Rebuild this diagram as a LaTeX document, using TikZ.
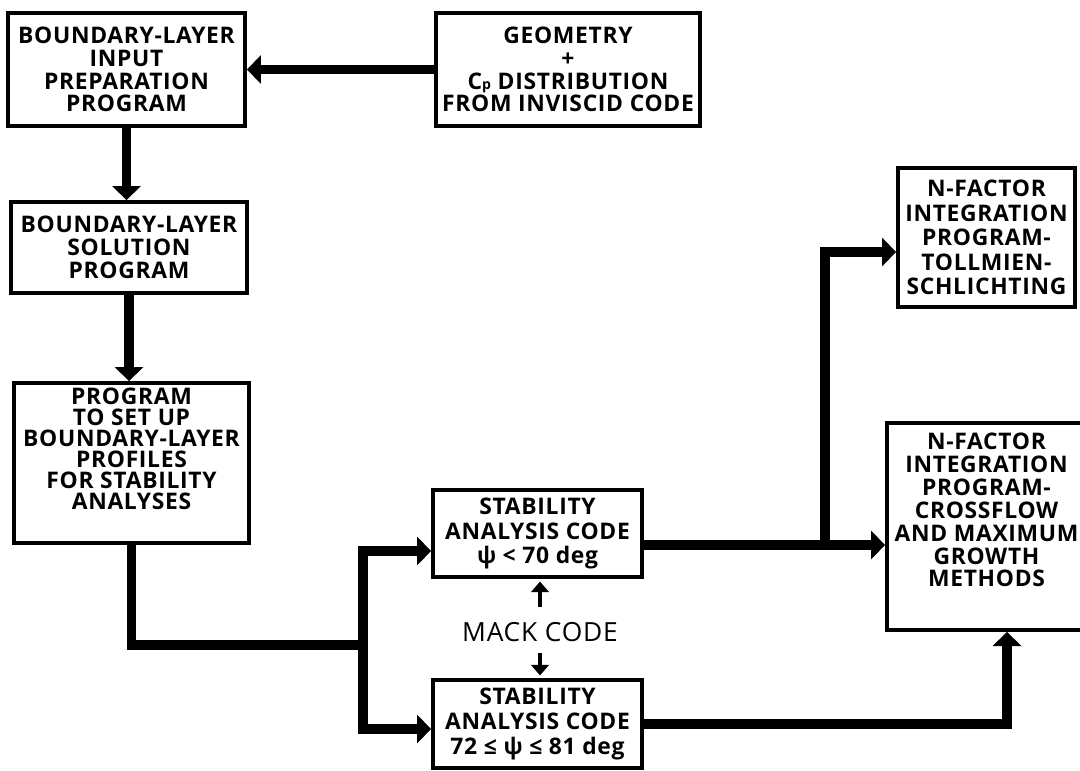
\documentclass[tikz,border=0pt]{standalone}
\usepackage{fontspec}
\usepackage{tikz}
\usetikzlibrary{arrows.meta,positioning}
\newfontfamily\diagfont{Open Sans}[LetterSpace=3]
\tikzset{
  procbox/.style={rectangle,draw=black,line width=2.2pt,align=center,inner sep=0pt,fill=white,
    font=\diagfont\bfseries\fontsize{13}{13}\selectfont},
  widelines/.style={font=\diagfont\bfseries\fontsize{13}{14}\selectfont},
  narrowlines/.style={font=\diagfont\bfseries\fontsize{13}{12}\selectfont},
  flowline/.style={line width=5.5pt,draw=black},
  flowarrow/.style={-{Triangle[length=8pt,width=16pt]},line width=5.5pt,draw=black},
  mackarrow/.style={-{Triangle[length=6pt,width=10pt]},line width=2.2pt,draw=black}
}

\begin{document}
\begin{tikzpicture}
  \clip (0,0) rectangle (21.6,15.4);
  \node[procbox,minimum width=4.74cm,minimum height=2.26cm] (prep) at (2.53,14.01)
    {BOUNDARY-LAYER\\INPUT\\PREPARATION\\PROGRAM};
  \node[procbox,minimum width=5.28cm,minimum height=2.26cm] (geo) at (11.36,14.01)
    {GEOMETRY\\+\\C{\footnotesize p} DISTRIBUTION\\FROM INVISCID CODE};
  \node[procbox,minimum width=4.72cm,minimum height=1.82cm] (blsol) at (2.58,10.45)
    {BOUNDARY-LAYER\\SOLUTION\\PROGRAM};
  \node[procbox,narrowlines,minimum width=4.70cm,minimum height=3.2cm] (profiles) at (2.63,6.14)
    {PROGRAM\\TO SET UP\\BOUNDARY-LAYER\\PROFILES\\FOR STABILITY\\ANALYSES\\\rule[-0.14cm]{0pt}{0pt}};
  \node[procbox,widelines,minimum width=4.18cm,minimum height=1.74cm] (stabA) at (10.75,4.73)
    {STABILITY\\ANALYSIS CODE\\ψ < 70 deg};
  \node[procbox,widelines,minimum width=4.18cm,minimum height=1.76cm] (stabB) at (10.75,0.92)
    {STABILITY\\ANALYSIS CODE\\72 ≤ ψ ≤ 81 deg};
  \node[procbox,widelines,minimum width=3.54cm,minimum height=2.78cm] (tollmien) at (19.73,10.65)
    {N-FACTOR\\INTEGRATION\\PROGRAM-\\TOLLMIEN-\\SCHLICHTING};
  \node[procbox,minimum width=3.98cm,minimum height=4.14cm] (crossflow) at (19.73,4.87)
    {N-FACTOR\\INTEGRATION\\PROGRAM-\\CROSSFLOW\\AND MAXIMUM\\GROWTH\\METHODS\\\rule[-0.2cm]{0pt}{0.2cm}};
  \node[font=\diagfont\fontsize{15}{17}\selectfont] (mack) at (10.8,2.76) {MACK CODE};
  \coordinate (split) at (7.26,2.5);
  \coordinate (tee) at (16.5,4.5);
  \draw[flowarrow] (geo.west) -- (prep.east);
  \draw[flowarrow] (prep.south) -- (prep.south |- blsol.north);
  \draw[flowarrow] (blsol.south) -- (blsol.south |- profiles.north);
  \draw[flowline] (profiles.south) |- (split);
  \draw[flowarrow] (split) |- ([yshift=-0.35cm]stabA.west);
  \draw[flowarrow] (split) |- ([yshift=-0.1cm]stabB.west);
  \draw[flowarrow] ([yshift=-0.23cm]stabA.east) -- ([yshift=-0.23cm]stabA.east -| crossflow.west);
  \draw[flowarrow] (tee) |- ([yshift=-0.29cm]tollmien.west);
  \draw[flowarrow] (stabB.east) -| ([xshift=0.41cm]crossflow.south);
  \draw[mackarrow,shorten <=5pt,shorten >=1.5pt] (mack.north) -- (mack.north |- stabA.south);
  \draw[mackarrow,shorten <=3pt,shorten >=1.5pt] (mack.south) -- (mack.south |- stabB.north);
\end{tikzpicture}
\end{document}
